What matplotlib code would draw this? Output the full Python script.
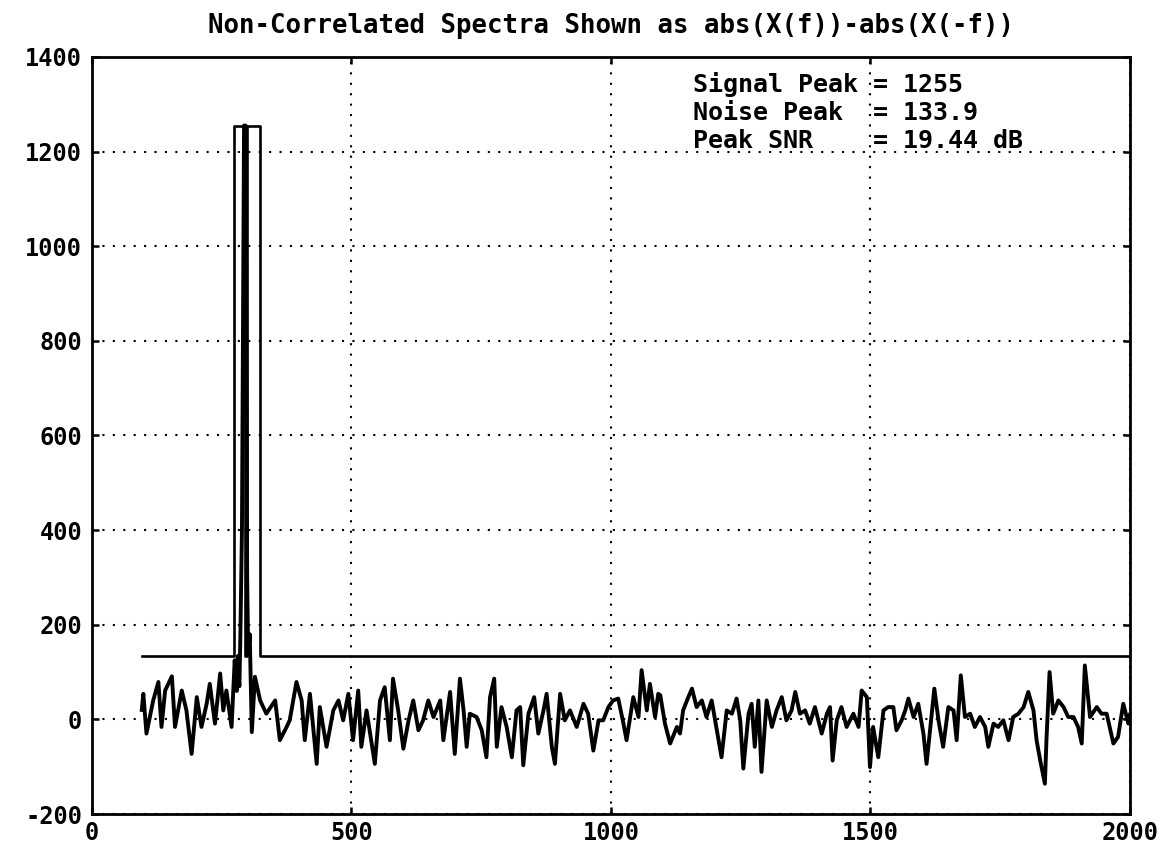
import numpy as np
import matplotlib.pyplot as plt

# spectrum difference abs(X(f)) - abs(X(-f)), read at irregular frequency bins
freq = [96, 99, 105, 118, 128, 134, 141, 154, 160, 173, 182, 192, 202, 211, 221,
        227, 237, 247, 253, 259, 269, 275, 279, 281, 284, 286, 289, 293, 296, 299,
        301, 304, 308, 314, 324, 336, 353, 362, 375, 381, 394, 404, 410, 420, 433,
        439, 452, 465, 475, 484, 494, 503, 513, 519, 529, 545, 555, 564, 574, 580,
        590, 600, 610, 619, 629, 638, 648, 658, 671, 677, 690, 699, 709, 716, 722,
        728, 741, 751, 760, 767, 775, 780, 789, 799, 809, 818, 825, 831, 841, 852,
        860, 870, 876, 886, 892, 902, 911, 921, 934, 947, 956, 966, 976, 985, 995,
        1004, 1014, 1024, 1030, 1043, 1053, 1059, 1069, 1075, 1085, 1091, 1095, 1104, 1114, 1127,
        1133, 1139, 1149, 1156, 1165, 1175, 1184, 1194, 1204, 1213, 1223, 1233, 1242, 1249, 1255,
        1265, 1271, 1277, 1284, 1290, 1300, 1310, 1319, 1329, 1338, 1348, 1355, 1364, 1374, 1383,
        1393, 1406, 1416, 1422, 1427, 1435, 1444, 1454, 1467, 1477, 1483, 1493, 1499, 1505, 1515,
        1525, 1534, 1544, 1550, 1560, 1567, 1573, 1583, 1592, 1602, 1608, 1618, 1623, 1631, 1640,
        1650, 1660, 1666, 1674, 1682, 1692, 1701, 1711, 1721, 1727, 1737, 1746, 1756, 1766, 1775,
        1785, 1795, 1804, 1814, 1820, 1827, 1836, 1839, 1845, 1852, 1862, 1872, 1881, 1891, 1900,
        1907, 1913, 1923, 1936, 1945, 1955, 1968, 1977, 1987, 1997, 2000]
spectrum = [20, 54, -30, 40, 79, -16, 61, 91, -16, 61, 19, -73, 47, -16, 33,
            75, -9, 97, 19, 61, -16, 125, 60, 133.9, 70, 180, 400, 1255, 1255, 300,
            140, 180, -27, 90, 40, 12, 40, -44, -16, -2, 79, 40, -44, 54, -94,
            26, -58, 19, 40, -2, 54, -44, 61, -58, 19, -94, 40, 68, -44, 86,
            19, -62, -2, 40, -23, -2, 40, 5, 40, -44, 58, -73, 86, 19, -58,
            12, 5, -23, -80, 47, 86, -58, 26, -16, -80, 19, 26, -97, 12, 47,
            -30, 19, 54, -58, -94, 54, -2, 19, -16, 33, 12, -66, -2, -2, 26,
            40, 44, -9, -44, 47, 5, 104, 19, 75, 5, 54, 51, -9, -51, -16,
            -30, 19, 47, 65, 26, 40, 5, 40, -23, -80, 19, 12, 44, -2, -104,
            12, 33, -58, 40, -111, 40, -16, 19, 47, -2, 19, 58, 12, 19, -9,
            26, -30, 12, 26, -87, -2, 26, -16, 12, -16, 61, 47, -101, -16, -80,
            19, 26, 26, -23, -2, 19, 44, 5, 33, -30, -94, 12, 65, -2, -58,
            26, 19, -44, 93, 5, 12, -16, 5, -16, -58, -9, -16, -2, -44, 5,
            12, 26, 58, 19, -44, -87, -136, -44, 100, 12, 40, 26, 5, 5, -16,
            -51, 114, 5, 26, 12, 12, -51, -37, 33, -9, 10]

signal_peak = 1255
noise_peak = 133.9
peak_snr = 20 * np.log10(signal_peak / noise_peak)

# detection mask: noise peak level, raised to the signal peak over the signal bins
mask_freq = [96, 273, 273, 295, 295, 298, 298, 323, 323, 2000]
mask_level = [noise_peak, noise_peak, signal_peak, signal_peak, noise_peak,
              noise_peak, signal_peak, signal_peak, noise_peak, noise_peak]

x_ticks = [0, 500, 1000, 1500, 2000]
y_ticks = [-200, 0, 200, 400, 600, 800, 1000, 1200, 1400]

mono = 'DejaVu Sans Mono'

fig = plt.figure(figsize=(11.67, 8.52), dpi=100)
ax = fig.add_axes([0.0788, 0.0446, 0.8895, 0.8885])

ax.plot(mask_freq, mask_level, color='black', lw=1.9, solid_joinstyle='round')
ax.plot(freq, spectrum, color='black', lw=2.8, solid_joinstyle='round')

ax.set_xlim(0, 2000)
ax.set_ylim(-200, 1400)
ax.set_xticks(x_ticks)
ax.set_yticks(y_ticks)
ax.set_xticklabels([str(t) for t in x_ticks], family=mono, weight='bold', fontsize=17)
ax.set_yticklabels([str(t) for t in y_ticks], family=mono, weight='bold', fontsize=17)
ax.tick_params(direction='in', length=5, width=1.8, top=True, right=True)
ax.tick_params(axis='x', pad=5)
ax.tick_params(axis='y', pad=7)
for side in ax.spines.values():
    side.set_linewidth(2.0)
ax.grid(True, color='black', linestyle=(0, (1, 4)), lw=1.5)

fig.text(0.5236, 0.9695, 'Non-Correlated Spectra Shown as abs(X(f))-abs(X(-f))',
         family=mono, weight='bold', fontsize=18.5, ha='center', va='center')

lines = [f'Signal Peak = {signal_peak}',
         f'Noise Peak  = {noise_peak}',
         f'Peak SNR    = {peak_snr:.2f} dB']
for i, s in enumerate(lines):
    ax.text(1158, 1342 - 60 * i, s, family=mono, weight='bold', fontsize=18,
            ha='left', va='center')

fig.savefig('out.png', dpi=100)
